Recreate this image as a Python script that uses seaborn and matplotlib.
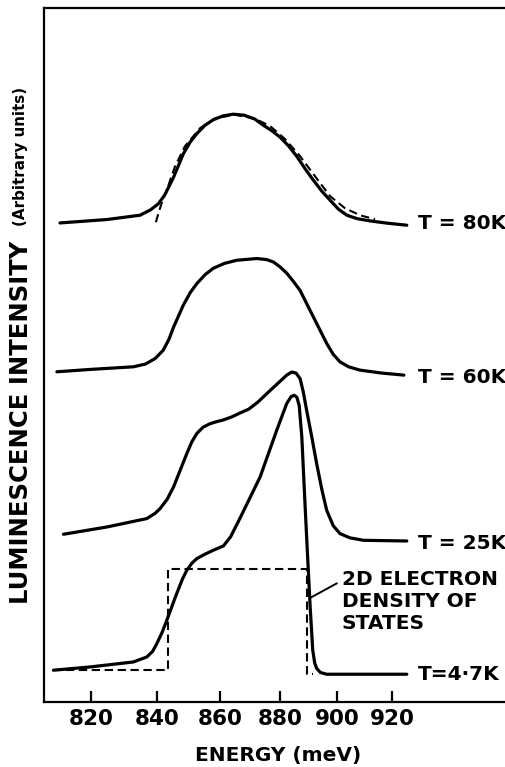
import numpy as np
import pandas as pd
import matplotlib
matplotlib.use("Agg")
import matplotlib.pyplot as plt
import seaborn as sns

sns.set_theme(style="white")
plt.rcParams["font.family"] = ["DejaVu Sans"]
plt.rcParams["font.weight"] = "bold"
plt.rcParams["text.color"] = "black"
plt.rcParams["axes.labelcolor"] = "black"
plt.rcParams["xtick.color"] = "black"

# ---------------- data (energy in meV, intensity in arbitrary units) ----------------
curve_names = ["T = 80K", "T = 60K", "T = 25K", "T=4·7K"]
offsets = [68.7, 47.1, 23.2, 4.0]

e_80 = [811.0, 824.8, 834.8, 838.0, 840.5, 842.5, 845.2, 848.3, 850.5, 852.6,
        855.2, 857.9, 861.0, 864.4, 868.0, 871.5, 874.4, 877.3, 880.0, 883.0,
        885.8, 888.7, 891.5, 894.5, 897.4, 900.4, 903.4, 907.0, 911.8, 918.0, 925.4]
i_80 = [0.33, 0.82, 1.44, 2.2, 3.1, 4.4, 6.9, 10.3, 12.0, 13.2,
        14.4, 15.2, 15.75, 16.0, 15.85, 15.3, 14.4, 13.6, 12.7, 11.4,
        9.9, 8.1, 6.5, 4.9, 3.6, 2.3, 1.44, 0.95, 0.62, 0.3, 0.0]

e_80_fit = [839.7, 840.4, 841.6, 843.5, 845.7, 848.8, 853.6, 858.5, 865.0, 871.6,
            876.7, 881.8, 886.9, 892.1, 897.4, 902.7, 908.1, 913.6]
i_80_fit = [0.43, 1.59, 3.31, 5.62, 8.50, 11.38, 13.98, 15.42, 15.92, 15.35,
            14.27, 12.39, 9.94, 7.06, 4.18, 2.45, 1.44, 0.86]

e_60 = [810.1, 819.8, 832.8, 836.5, 839.5, 842.0, 843.8, 845.2, 848.3, 850.5,
        852.6, 855.3, 857.9, 861.5, 865.5, 872.2, 875.5, 877.8, 880.0, 882.3,
        884.6, 886.9, 891.5, 896.2, 898.5, 900.9, 904.0, 908.1, 916.0, 924.3]
i_60 = [0.48, 0.82, 1.20, 1.6, 2.4, 3.6, 5.2, 6.9, 10.1, 11.9,
        13.2, 14.5, 15.4, 16.1, 16.55, 16.8, 16.65, 16.3, 15.6, 14.7,
        13.5, 12.2, 8.4, 4.57, 3.0, 1.92, 1.2, 0.72, 0.3, 0.0]

e_25 = [812.0, 824.8, 836.9, 839.5, 841.0, 843.2, 845.2, 847.3, 849.4, 851.0,
        852.6, 854.6, 856.8, 859.0, 861.2, 864.0, 866.6, 869.5, 872.5, 876.7,
        880.0, 882.3, 884.0, 885.5, 886.9, 888.0, 889.2, 891.0, 892.7, 894.5,
        896.2, 898.5, 900.9, 904.5, 909.4, 925.4]
i_25 = [0.97, 2.02, 3.23, 4.0, 4.67, 6.0, 7.78, 10.2, 12.6, 14.3,
        15.5, 16.4, 16.9, 17.2, 17.45, 17.9, 18.44, 19.0, 20.0, 21.7,
        23.0, 23.9, 24.34, 24.2, 23.4, 21.5, 18.77, 14.9, 11.08, 7.4,
        4.42, 2.2, 1.07, 0.45, 0.10, 0.0]

e_4 = [809.1, 819.8, 832.8, 836.9, 838.7, 840.0, 841.6, 843.1, 846.2, 848.0,
       849.4, 851.0, 852.6, 855.2, 857.9, 861.2, 863.5, 866.6, 873.3, 878.9,
       882.3, 883.8, 884.9, 885.8, 886.6, 887.5, 888.6, 889.4, 890.4, 891.3,
       892.0, 892.7, 894.0, 896.2, 925.4]
i_4 = [0.58, 1.05, 1.77, 2.49, 3.3, 4.42, 6.0, 7.78, 11.63, 13.7,
       14.99, 16.0, 16.67, 17.3, 17.87, 18.5, 19.8, 22.48, 28.43, 35.16,
       39.0, 40.0, 40.2, 39.9, 38.7, 34.2, 24.6, 17.87, 9.70, 3.46,
       1.6, 0.82, 0.25, 0.0, 0.0]

dos_e = [809.1, 843.6, 843.6, 889.2, 889.2, 891.5]
dos_i = [0.6, 0.6, 15.2, 15.2, 0.1, 0.1]

x_ticks = [820, 840, 860, 880, 900, 920]

# ---------------- build tables ----------------
rows = []
for name, off, es, ii in zip(curve_names, offsets,
                             [e_80, e_60, e_25, e_4], [i_80, i_60, i_25, i_4]):
    for e, v in zip(es, ii):
        rows.append({"curve": name, "energy": e, "y": v + off})
df = pd.DataFrame(rows)
fit_df = pd.DataFrame({"energy": e_80_fit, "y": np.array(i_80_fit) + offsets[0]})
dos_df = pd.DataFrame({"energy": dos_e, "y": np.array(dos_i) + offsets[3]})

# ---------------- figure ----------------
fig = plt.figure(figsize=(5.05, 7.67), dpi=100)
ax = fig.add_axes([44 / 505, 65 / 767, 461 / 505, 694 / 767])

for name in curve_names:
    sub = df[df["curve"] == name]
    sns.lineplot(data=sub, x="energy", y="y", ax=ax, sort=False, estimator=None,
                 color="black", linewidth=2.3, solid_capstyle="round",
                 solid_joinstyle="round")

sns.lineplot(data=fit_df, x="energy", y="y", ax=ax, sort=False, estimator=None,
             color="black", linewidth=1.5)
ax.lines[-1].set_dashes([4, 2.2])
sns.lineplot(data=dos_df, x="energy", y="y", ax=ax, sort=False, estimator=None,
             color="black", linewidth=1.5)
ax.lines[-1].set_dashes([4, 2.2])

# energy axis drawn linear in wavelength (1/E)
ax.set_xscale("function", functions=(lambda e: -1000.0 / e, lambda u: -1000.0 / u))
ax.set_xlim(806.4, 963.9)
ax.set_ylim(0, 100)
ax.set_xticks(x_ticks)
ax.set_xticklabels([str(t) for t in x_ticks], fontsize=15.5, fontweight="bold")
ax.set_yticks([])
ax.minorticks_off()
ax.tick_params(axis="x", direction="in", length=8, width=1.6, pad=5,
               bottom=True, top=False, colors="black")
ax.set_xlabel("")
ax.set_ylabel("")

for side in ["left", "bottom", "top"]:
    ax.spines[side].set_visible(True)
    ax.spines[side].set_color("black")
    ax.spines[side].set_linewidth(1.6)
ax.spines["right"].set_visible(False)

# curve labels
label_y = [68.9, 46.7, 22.9, 3.9]
for name, yy in zip(curve_names, label_y):
    ax.text(929.5, yy, name, fontsize=14.5, fontweight="bold",
            ha="left", va="center", color="black")

ax.annotate("", xy=(890.4, 15.0), xytext=(899.8, 17.1),
            arrowprops=dict(arrowstyle="-", color="black", lw=1.4,
                            shrinkA=0, shrinkB=0))
ax.text(901.6, 19.0, "2D ELECTRON\nDENSITY OF\nSTATES", fontsize=14.5,
        fontweight="bold", ha="left", va="top", linespacing=1.2, color="black")

fig.text(278.5 / 505, (767 - 755) / 767, "ENERGY (meV)", fontsize=14.5,
         fontweight="bold", ha="center", va="center", color="black")
fig.text(21 / 505, (767 - 422.5) / 767, "LUMINESCENCE INTENSITY", fontsize=17.5,
         fontweight="bold", rotation=90, ha="center", va="center", color="black")
fig.text(21 / 505, (767 - 156.5) / 767, "(Arbitrary units)", fontsize=10.9,
         fontweight="bold", rotation=90, ha="center", va="center", color="black")

fig.savefig("out.png", dpi=100)
